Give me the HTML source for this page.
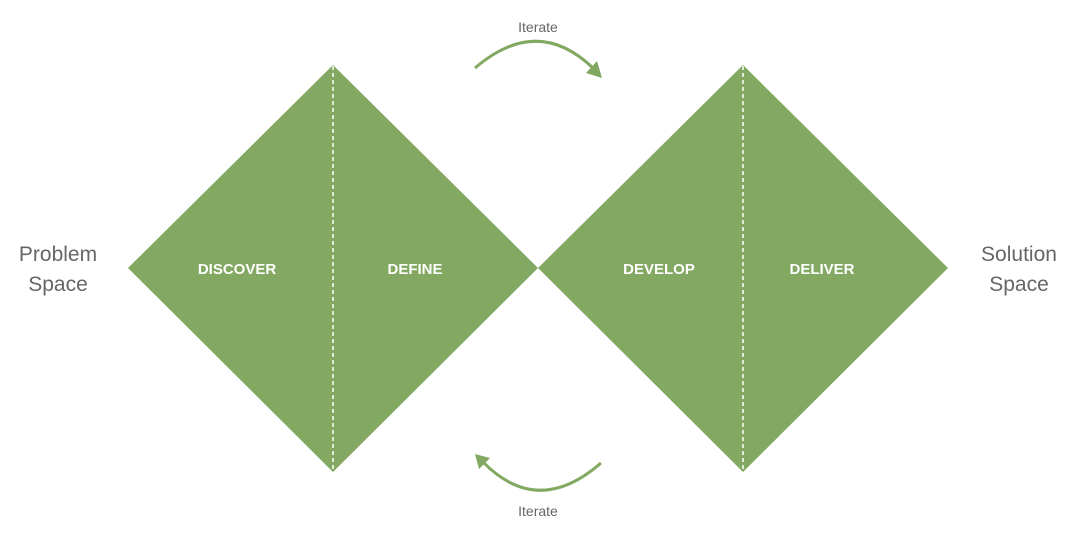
<!DOCTYPE html>
<html><head><style>
html,body{margin:0;padding:0;background:#fff;}
body{width:1080px;height:536px;overflow:hidden;}
</style></head><body>
<svg width="1080" height="536" viewBox="0 0 1080 536" xmlns="http://www.w3.org/2000/svg" font-family="Liberation Sans, sans-serif">
<polygon points="128,268 333,65 538,268 333,472" fill="#82a862"/>
<polygon points="538,268 743,65 948,268 743,472" fill="#82a862"/>
<line x1="333" y1="66" x2="333" y2="471" stroke="#fff" stroke-width="1.5" stroke-dasharray="4,3"/>
<line x1="743" y1="66" x2="743" y2="471" stroke="#fff" stroke-width="1.5" stroke-dasharray="4,3"/>
<g fill="#fff" font-size="15" font-weight="600" text-anchor="middle">
<text x="237" y="274">DISCOVER</text>
<text x="415" y="274">DEFINE</text>
<text x="659" y="274">DEVELOP</text>
<text x="822" y="274">DELIVER</text>
</g>
<g fill="#666" font-size="21" text-anchor="middle">
<text x="58" y="261">Problem</text>
<text x="58" y="291">Space</text>
<text x="1019" y="261">Solution</text>
<text x="1019" y="291">Space</text>
</g>
<g fill="#666" font-size="14" text-anchor="middle">
<text x="538" y="32">Iterate</text>
<text x="538" y="516">Iterate</text>
</g>
<path d="M475,68 Q538,14 594,69" fill="none" stroke="#82a862" stroke-width="3"/>
<polygon points="602,78 586,73 597,61" fill="#82a862"/>
<path d="M601,463 Q538,518 483,462" fill="none" stroke="#82a862" stroke-width="3"/>
<polygon points="475,454 490,458 479,469" fill="#82a862"/>
</svg>
</body></html>
